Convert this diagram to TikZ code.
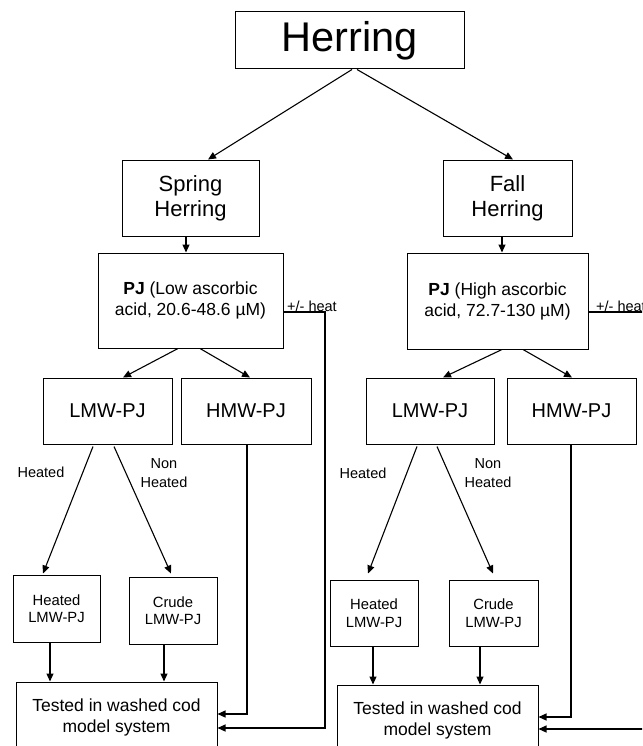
\documentclass[tikz,border=0pt]{standalone}
\usepackage{fontspec}
\setmainfont{Liberation Sans}
\usetikzlibrary{arrows.meta}
\newcommand\setfs[2]{\fontsize{#1}{#2}\selectfont}
\begin{document}
\begin{tikzpicture}[x=1pt,y=-1pt,
  box/.style={draw,line width=1pt,inner sep=0pt,align=center},
  arr/.style={line width=1.1pt,-{Triangle[length=8pt,width=7pt]}},
  lbl/.style={inner sep=0pt,align=center,font=\setfs{14.5}{19}}]
\useasboundingbox (0,0) rectangle (642,746);
\clip (0,0) rectangle (642,746);
% top
\node[box,minimum width=229pt,minimum height=57pt,font=\setfs{41.5}{48}] (herring) at (349.5,40.5) {Herring};
\node[box,minimum width=137pt,minimum height=75pt,font=\setfs{22}{25}] (spring) at (190.5,198.5) {Spring\\Herring};
\node[box,minimum width=129pt,minimum height=75pt,font=\setfs{22}{25}] (fall) at (507.5,198.5) {Fall\\Herring};
% PJ
\node[box,minimum width=185pt,minimum height=95pt,font=\setfs{17.5}{21}] (pjL) at (190.5,300.5) {\textbf{PJ} (Low ascorbic\\acid, 20.6-48.6 µM)};
\node[box,minimum width=181pt,minimum height=96pt,font=\setfs{17.5}{21}] (pjR) at (497.5,301) {\textbf{PJ} (High ascorbic\\acid, 72.7-130 µM)};
% LMW / HMW
\node[box,minimum width=129pt,minimum height=66pt,font=\setfs{20}{24}] (lmwL) at (107.5,411) {LMW-PJ};
\node[box,minimum width=130pt,minimum height=66pt,font=\setfs{20}{24}] (hmwL) at (246,411) {HMW-PJ};
\node[box,minimum width=128pt,minimum height=66pt,font=\setfs{20}{24}] (lmwR) at (430,411) {LMW-PJ};
\node[box,minimum width=129pt,minimum height=66pt,font=\setfs{20}{24}] (hmwR) at (571.5,411) {HMW-PJ};
% small boxes
\node[box,minimum width=87pt,minimum height=67pt,font=\setfs{14.8}{17.5}] (heatL) at (56.5,608.5) {Heated\\LMW-PJ};
\node[box,minimum width=88pt,minimum height=67pt,font=\setfs{14.8}{17.5}] (crudeL) at (173,610.5) {Crude\\LMW-PJ};
\node[box,minimum width=88pt,minimum height=66pt,font=\setfs{14.8}{17.5}] (heatR) at (374,613) {Heated\\LMW-PJ};
\node[box,minimum width=89pt,minimum height=66pt,font=\setfs{14.8}{17.5}] (crudeR) at (493.5,613) {Crude\\LMW-PJ};
% tested boxes
\node[box,minimum width=201pt,minimum height=88pt] (testL) at (116.5,726) {};
\node[inner sep=0pt,align=center,font=\setfs{17.5}{21}] (testLt) at (116.5,717) {Tested in washed cod\\model system};
\node[box,minimum width=201pt,minimum height=88pt] (testR) at (437.5,729) {};
\node[inner sep=0pt,align=center,font=\setfs{17.5}{21}] (testRt) at (437.5,720) {Tested in washed cod\\model system};
% labels
\node[lbl] (hl1) at (41,472) {Heated};
\node[lbl] (nh1) at (164,473) {Non\\Heated};
\node[lbl] (hl2) at (363,473) {Heated};
\node[lbl] (nh2) at (488,473) {Non\\Heated};
% connectors
\draw[arr] ([xshift=2.5pt]herring.south) -- ([xshift=17.5pt,yshift=1pt]spring.north);
\draw[arr] ([xshift=7.5pt]herring.south) -- ([xshift=5.5pt,yshift=1pt]fall.north);
\draw[arr] ([xshift=-4.5pt]spring.south) -- ([xshift=-4.5pt]spring.south |- pjL.north);
\draw[arr] ([xshift=-5.5pt]fall.south) -- ([xshift=-5.5pt]fall.south |- pjR.north);
\draw[arr] ([xshift=-12.5pt]pjL.south) -- ([xshift=15.5pt]lmwL.north);
\draw[arr] ([xshift=9.5pt]pjL.south) -- ([xshift=4pt]hmwL.north);
\draw[arr] ([xshift=4.5pt]pjR.south) -- ([xshift=13pt]lmwR.north);
\draw[arr] ([xshift=25.5pt]pjR.south) -- ([xshift=0.5pt]hmwR.north);
\draw[arr] ([xshift=-14.5pt,yshift=-2pt]lmwL.south) -- ([xshift=-13.5pt,yshift=1pt]heatL.north);
\draw[arr] ([xshift=6.5pt,yshift=-2pt]lmwL.south) -- ([xshift=-2pt,yshift=3pt]crudeL.north);
\draw[arr] ([xshift=-13pt,yshift=-2pt]lmwR.south) -- ([xshift=-6pt,yshift=6pt]heatR.north);
\draw[arr] ([xshift=7pt,yshift=-2pt]lmwR.south) -- ([xshift=-0.5pt,yshift=6pt]crudeR.north);
\draw[arr] ([xshift=-6.5pt]heatL.south) -- ([xshift=-6.5pt]heatL.south |- testL.north);
\draw[arr] ([xshift=-9pt]crudeL.south) -- ([xshift=-9pt]crudeL.south |- testL.north);
\draw[arr] ([xshift=-1pt]heatR.south) -- ([xshift=-1pt]heatR.south |- testR.north);
\draw[arr] ([xshift=-13.5pt]crudeR.south) -- ([xshift=-13.5pt]crudeR.south |- testR.north);
\draw[arr] ([xshift=1pt]hmwL.south) |- ([yshift=12pt]testL.east);
\draw[arr] ([xshift=-0.5pt]hmwR.south) |- ([yshift=12pt]testR.east);
% heat loops
\coordinate (hL) at (325,312);
\coordinate (hR) at (655,312);
\draw[arr] ([yshift=-11.5pt]pjL.east) -- (hL) |- ([yshift=-2pt]testL.east);
\draw[arr] ([yshift=-11pt]pjR.east) -- (hR) |- (testR.east);
\node[anchor=base west,inner sep=0pt,font=\setfs{14.5}{17}] (heatlblL) at (287,311) {+/- heat};
\node[anchor=base west,inner sep=0pt,font=\setfs{14.5}{17}] (heatlblR) at (596,311) {+/- heat};
\end{tikzpicture}
\end{document}
